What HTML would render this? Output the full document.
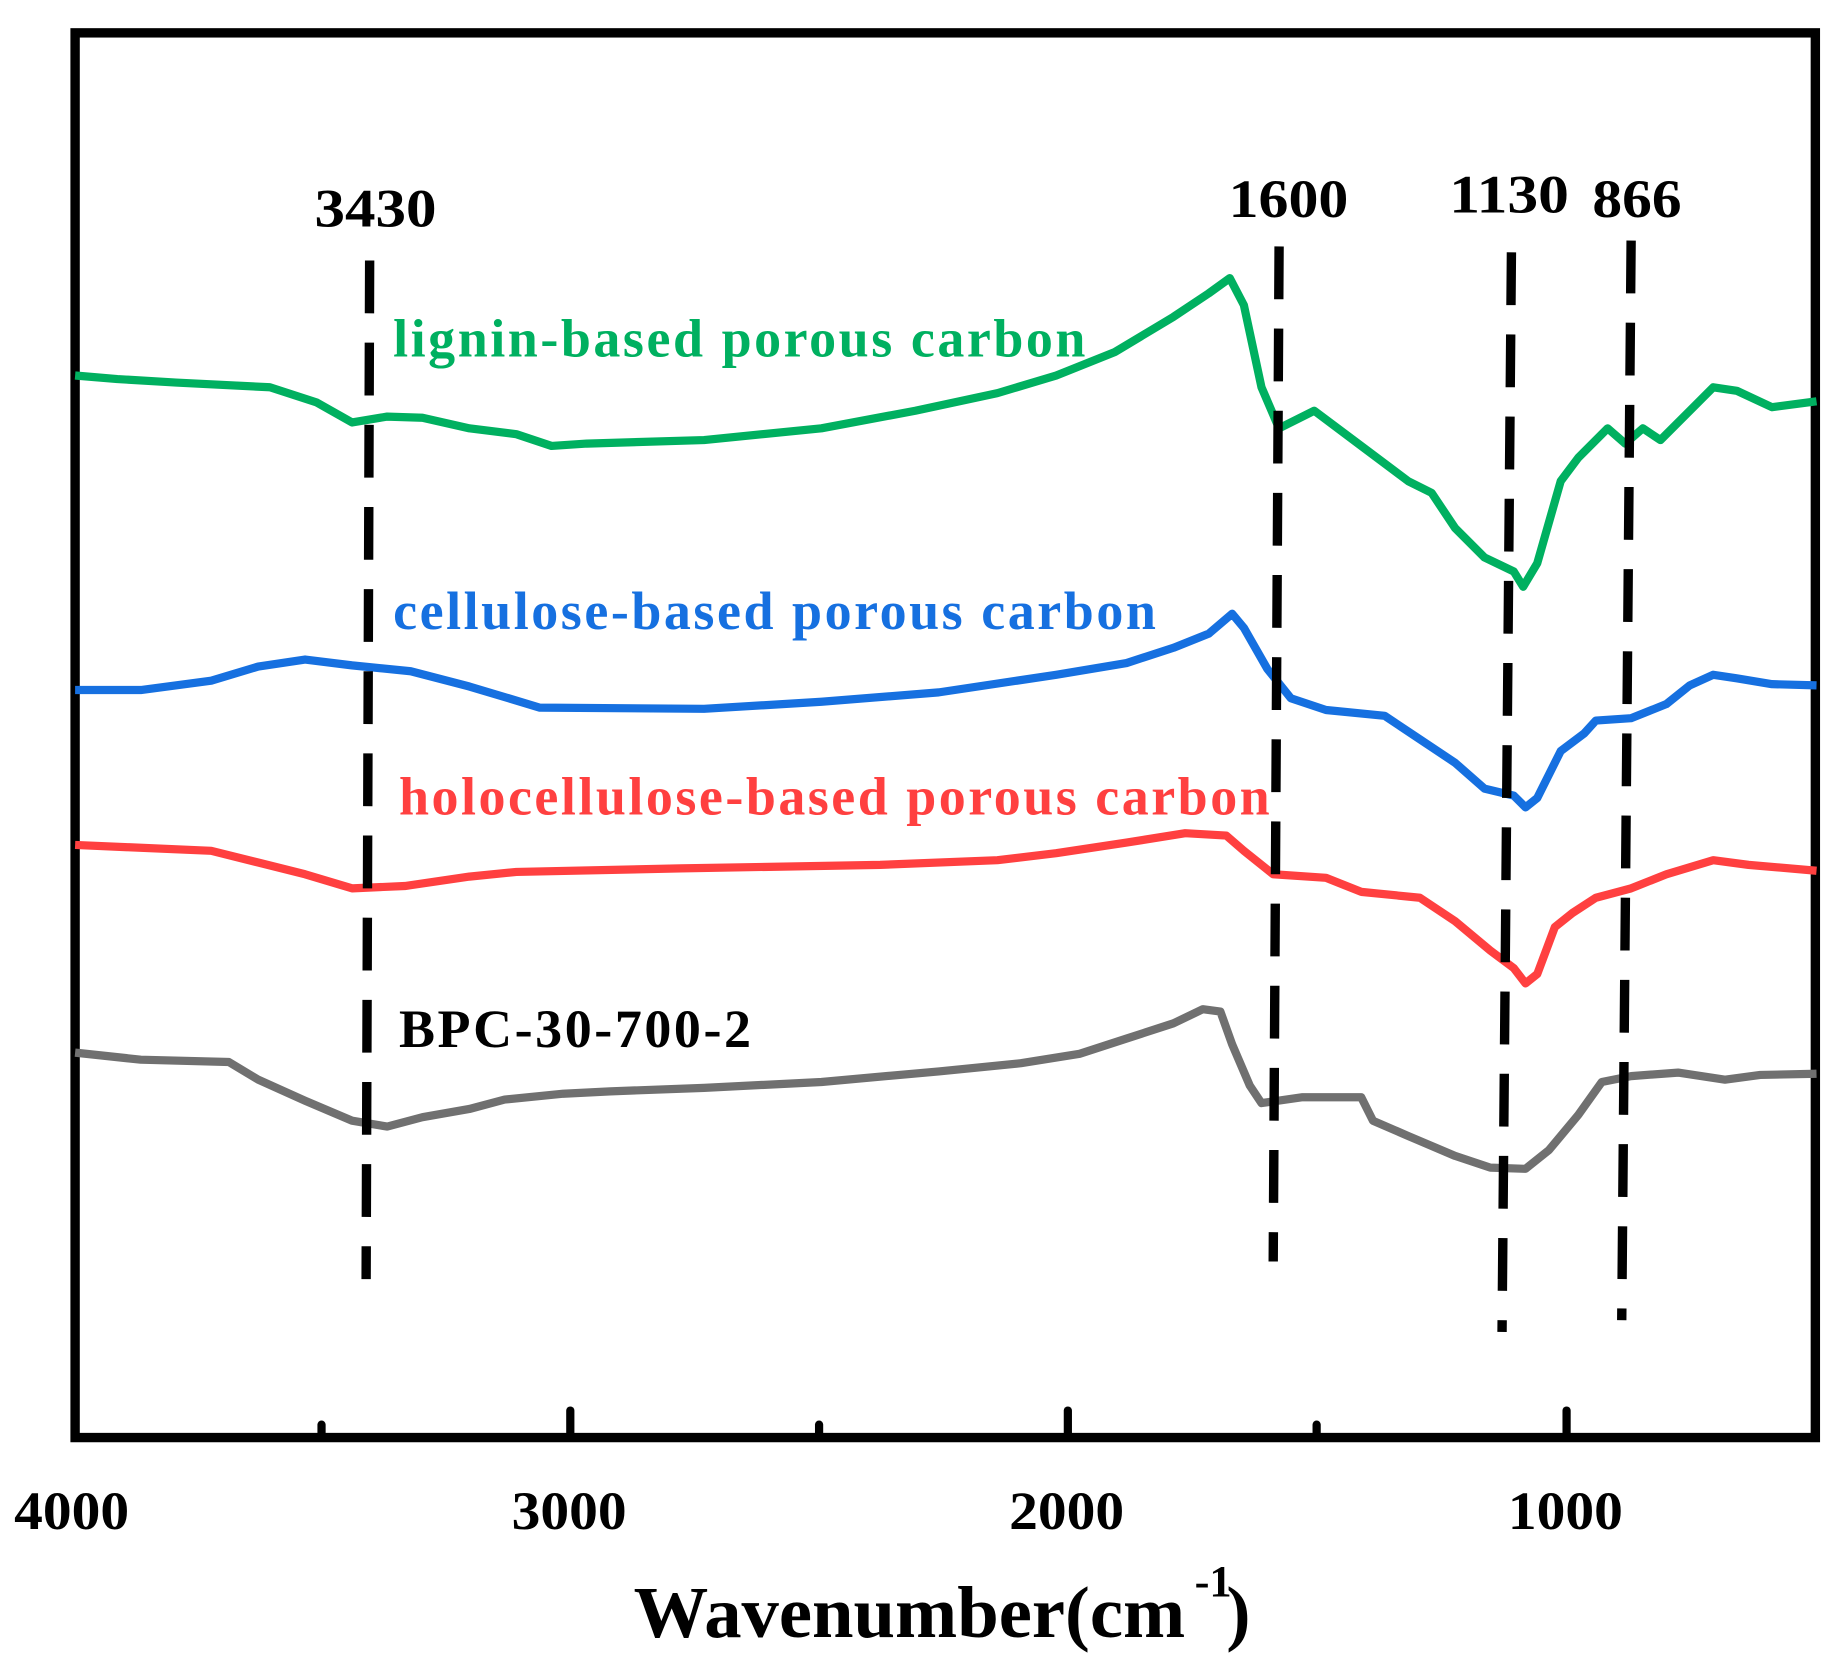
<!DOCTYPE html>
<html><head><meta charset="utf-8"><style>html,body{margin:0;padding:0;background:#fff}svg{display:block}</style></head>
<body>
<svg width="1840" height="1659" viewBox="0 0 1568 1413.7" preserveAspectRatio="none" xmlns="http://www.w3.org/2000/svg" font-family="Liberation Serif, serif" font-weight="bold">
<rect x="64" y="28" width="1483" height="1197" fill="none" stroke="#000" stroke-width="8"/>
<g stroke="#000" stroke-width="7" stroke-linecap="round">
<line x1="486" y1="1225" x2="486" y2="1202"/><line x1="910" y1="1225" x2="910" y2="1202"/><line x1="1335" y1="1225" x2="1335" y2="1202"/>
<line x1="274" y1="1225" x2="274" y2="1214"/><line x1="698" y1="1225" x2="698" y2="1214"/><line x1="1122" y1="1225" x2="1122" y2="1214"/>
</g>
<g font-size="46">
<text x="12" y="1303" textLength="98" lengthAdjust="spacingAndGlyphs">4000</text>
<text x="436" y="1303" textLength="98" lengthAdjust="spacingAndGlyphs">3000</text>
<text x="860" y="1303" textLength="98" lengthAdjust="spacingAndGlyphs">2000</text>
<text x="1285" y="1303" textLength="98" lengthAdjust="spacingAndGlyphs">1000</text>
</g>
<text x="540" y="1395" font-size="62" textLength="470" lengthAdjust="spacingAndGlyphs">Wavenumber(cm</text>
<text x="1018" y="1360" font-size="38">-1</text>
<text x="1045" y="1395" font-size="62">)</text>
<g fill="none" stroke-width="7" stroke-linejoin="round">
<polyline stroke="#00b060" points="64,320 100,323 150,326 230,330 270,343 300,360 330,355 360,356 400,365 440,370 470,380 500,378 600,375 700,365 780,350 850,335 900,320 950,300 1000,270 1030,250 1048,237 1060,260 1075,330 1090,365 1120,350 1160,380 1200,410 1220,420 1240,450 1265,475 1290,487 1298,500 1310,480 1330,410 1345,390 1370,365 1385,378 1400,365 1415,375 1440,350 1460,330 1480,333 1510,347 1548,342"/>
<polyline stroke="#1670e0" points="64,588 120,588 180,580 220,568 260,562 300,567 350,572 400,585 460,603 600,604 700,598 800,590 900,575 960,565 1000,552 1030,540 1050,523 1060,535 1080,570 1100,595 1130,605 1180,610 1210,630 1240,650 1265,672 1290,678 1300,688 1310,680 1330,640 1350,625 1360,614 1390,612 1420,600 1440,584 1460,575 1480,578 1510,583 1548,584"/>
<polyline stroke="#ff4040" points="64,720 110,722 180,725 220,735 260,745 300,757 345,755 400,747 440,743 580,740 750,737 850,733 900,727 960,718 1010,710 1045,712 1060,725 1085,745 1130,748 1160,760 1210,765 1240,785 1270,810 1290,825 1300,838 1310,830 1325,790 1340,778 1360,765 1390,757 1420,745 1460,733 1490,737 1548,742"/>
<polyline stroke="#707070" points="64,897 120,903 195,905 220,920 260,938 300,955 330,960 360,952 400,945 430,937 480,932 520,930 600,927 700,922 800,913 870,906 920,898 960,885 1000,872 1025,860 1040,862 1050,890 1065,925 1075,940 1110,935 1160,935 1170,955 1200,968 1240,985 1270,995 1300,996 1320,980 1345,950 1365,922 1390,917 1430,914 1470,920 1500,916 1548,915"/>
</g>
<g stroke="#000" stroke-width="8" stroke-dasharray="45,25">
<line x1="315" y1="222" x2="312" y2="1090"/>
<line x1="1090" y1="210" x2="1085" y2="1075"/>
<line x1="1288" y1="215" x2="1280" y2="1135"/>
<line x1="1390" y1="205" x2="1382" y2="1125"/>
</g>
<g font-size="46">
<text x="268" y="193" textLength="104" lengthAdjust="spacingAndGlyphs">3430</text>
<text x="1047" y="185" textLength="102" lengthAdjust="spacingAndGlyphs">1600</text>
<text x="1235" y="181" textLength="102" lengthAdjust="spacingAndGlyphs">1130</text>
<text x="1357" y="185" textLength="76" lengthAdjust="spacingAndGlyphs">866</text>
</g>
<g font-size="46">
<text x="335" y="304" fill="#00b060" textLength="590" lengthAdjust="spacing">lignin-based porous carbon</text>
<text x="335" y="536" fill="#1670e0" textLength="650" lengthAdjust="spacing">cellulose-based porous carbon</text>
<text x="340" y="694" fill="#ff4040" textLength="742" lengthAdjust="spacing">holocellulose-based porous carbon</text>
<text x="340" y="892" fill="#000" textLength="300" lengthAdjust="spacing">BPC-30-700-2</text>
</g>
</svg>
</body></html>
